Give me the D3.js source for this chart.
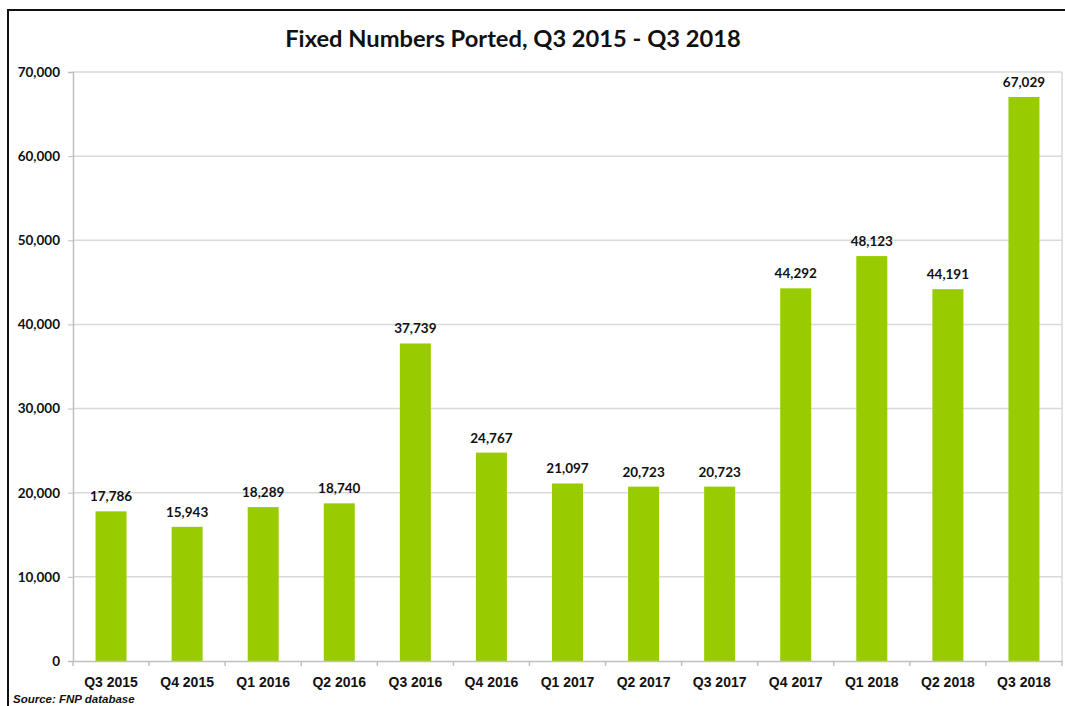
<!DOCTYPE html>
<html><head><meta charset="utf-8">
<script src="https://cdn.jsdelivr.net/npm/d3@7"></script>
<style>body{margin:0;background:#fff}</style>
</head><body>
<svg id="chart" width="1065" height="706"></svg>
<script>
const categories = ["Q3 2015","Q4 2015","Q1 2016","Q2 2016","Q3 2016","Q4 2016","Q1 2017","Q2 2017","Q3 2017","Q4 2017","Q1 2018","Q2 2018","Q3 2018"];
const values = [17786,15943,18289,18740,37739,24767,21097,20723,20723,44292,48123,44191,67029];
const yTicks = [0,10000,20000,30000,40000,50000,60000,70000];
const title = "Fixed Numbers Ported, Q3 2015 - Q3 2018";
const source = "Source: FNP database";

(function () {
const svg = d3.select("#chart");
const W = 1065, H = 706;
const pL = 73, pR = 1062, pT = 72, pB = 661;

// outer frame
svg.append("rect").attr("x", 8).attr("y", 10).attr("width", W + 20).attr("height", H + 20)
  .attr("fill", "#fff").attr("stroke", "#111").attr("stroke-width", 2);

svg.append("text").attr("x", 513).attr("y", 47).attr("text-anchor", "middle")
  .attr("font-family", "Lato, 'Open Sans', sans-serif").attr("font-weight", 700)
  .attr("font-size", 23.7).attr("fill", "#111").text(title);

const x = d3.scaleBand().domain(categories).range([pL, pR]).padding(0);
const y = d3.scaleLinear().domain([0, 70000]).range([pB, pT]);

// gridlines
svg.append("g").selectAll("line").data(yTicks.filter(d => d > 0)).join("line")
  .attr("x1", pL).attr("x2", pR).attr("y1", d => y(d)).attr("y2", d => y(d))
  .attr("stroke", "#d9d9d9").attr("stroke-width", 1.5);
// right border of plot area
svg.append("line").attr("x1", pR).attr("x2", pR).attr("y1", pT).attr("y2", pB)
  .attr("stroke", "#d9d9d9").attr("stroke-width", 1.5);

// y axis
const yAxis = svg.append("g").attr("transform", `translate(${pL},0)`)
  .call(d3.axisLeft(y).tickValues(yTicks).tickSize(5).tickPadding(8).tickFormat(d3.format(",")));
yAxis.select(".domain").attr("stroke", "#bfbfbf").attr("stroke-width", 1.5);
yAxis.selectAll(".tick line").attr("stroke", "#bfbfbf");
yAxis.selectAll("text").attr("font-family", "Lato, sans-serif").attr("font-weight", 700)
  .attr("font-size", 13.5).attr("fill", "#111");

// bars
const bw = 31;
svg.append("g").selectAll("rect").data(values).join("rect")
  .attr("x", (d, i) => x(categories[i]) + x.bandwidth() / 2 - bw / 2)
  .attr("width", bw)
  .attr("y", d => y(d))
  .attr("height", d => y(0) - y(d))
  .attr("fill", "#99cc00");

// value labels
svg.append("g").selectAll("text").data(values).join("text")
  .attr("x", (d, i) => x(categories[i]) + x.bandwidth() / 2)
  .attr("y", d => y(d) - 10)
  .attr("text-anchor", "middle")
  .attr("font-family", "Lato, sans-serif").attr("font-weight", 700)
  .attr("font-size", 13.5).attr("fill", "#111")
  .text(d => d3.format(",")(d));

// x axis
const xAxis = svg.append("g").attr("transform", `translate(0,${pB})`)
  .call(d3.axisBottom(x).tickSize(0).tickPadding(16));
xAxis.select(".domain").attr("stroke", "#bfbfbf").attr("stroke-width", 1.5);
xAxis.selectAll("text").attr("font-family", "'Liberation Sans', Arial, sans-serif").attr("font-weight", 700)
  .attr("font-size", 14).attr("fill", "#111");
// boundary ticks
const bounds = categories.map(c => x(c)).concat([pR]);
svg.append("g").selectAll("line").data(bounds).join("line")
  .attr("x1", d => d).attr("x2", d => d).attr("y1", pB).attr("y2", pB + 5)
  .attr("stroke", "#bfbfbf").attr("stroke-width", 1.5);

svg.append("text").attr("x", 13).attr("y", 703)
  .attr("font-family", "'Liberation Sans', Arial, sans-serif").attr("font-weight", 700)
  .attr("font-style", "italic").attr("font-size", 11.5).attr("fill", "#111").text(source);
})();
</script>
</body></html>
